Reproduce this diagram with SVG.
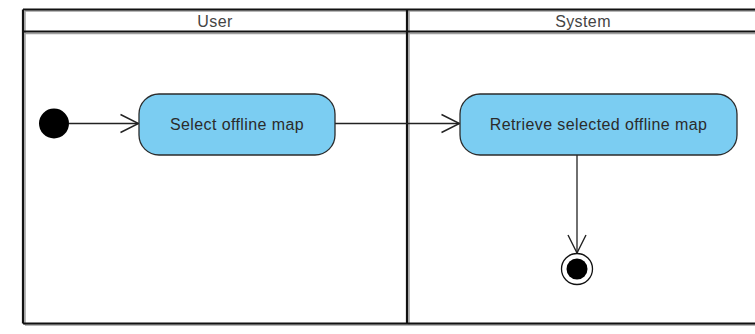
<svg xmlns="http://www.w3.org/2000/svg" width="755" height="334" viewBox="0 0 755 334">
  <style>
    .lane { fill: none; stroke: #111; stroke-width: 2.2; }
    .lane-shadow { fill: none; stroke: #a0a0a0; stroke-width: 1.5; }
    .lane-title { font-family: "Liberation Sans", Arial, sans-serif; font-size: 16px; letter-spacing: 0.4px; fill: #444; text-anchor: middle; }
    .action rect { fill: #7bcdf2; stroke: #2b2b2b; stroke-width: 1.3; }
    .action text { font-family: "Liberation Sans", Arial, sans-serif; font-size: 16px; letter-spacing: 0.4px; fill: #2b2b2b; text-anchor: middle; }
    .flow { fill: none; stroke: #222; stroke-width: 1.3; marker-end: url(#open-arrow); }
  </style>
  <defs>
    <marker id="open-arrow" markerUnits="userSpaceOnUse" markerWidth="22" markerHeight="22" viewBox="-20 -11 22 22" refX="0" refY="0" orient="auto">
      <path d="M-18,-9 L0,0 L-18,9" fill="none" stroke="#222" stroke-width="1.4"/>
    </marker>
  </defs>

  <rect width="755" height="334" fill="#ffffff"/>

  <!-- swimlane frame: shadow first, then the black rules -->
  <g id="swimlanes">
    <g class="lane-shadow">
      <path d="M25,11 H762 M25,33.5 H762 M409,11 V325 M25,325 H762 M25,11 V325"/>
    </g>
    <g class="lane">
      <path d="M23,9.5 H762 M23,31.5 H762 M407,9.5 V323.5 M23,323.5 H762 M23,9.5 V323.5"/>
    </g>
    <text class="lane-title" x="215" y="26.5">User</text>
    <text class="lane-title" x="583" y="26.5">System</text>
  </g>

  <!-- control flows -->
  <g id="connectors">
    <path class="flow" d="M69,123.5 H138.5"/>
    <path class="flow" d="M335,123.5 H459.5"/>
    <path class="flow" d="M577,155 V253"/>
  </g>

  <g id="initial">
    <circle cx="54" cy="123.5" r="15" fill="#000"/>
  </g>

  <g id="select-offline-map" class="action">
    <rect x="139" y="94" width="196" height="61" rx="20" ry="20"/>
    <text x="237" y="130">Select offline map</text>
  </g>

  <g id="retrieve-offline-map" class="action">
    <rect x="460" y="94" width="277" height="61" rx="20" ry="20"/>
    <text x="598.5" y="130">Retrieve selected offline map</text>
  </g>

  <g id="final">
    <circle cx="577" cy="269" r="15.5" fill="#fff" stroke="#111" stroke-width="1.3"/>
    <circle cx="577" cy="269" r="10.5" fill="#000"/>
  </g>
</svg>
